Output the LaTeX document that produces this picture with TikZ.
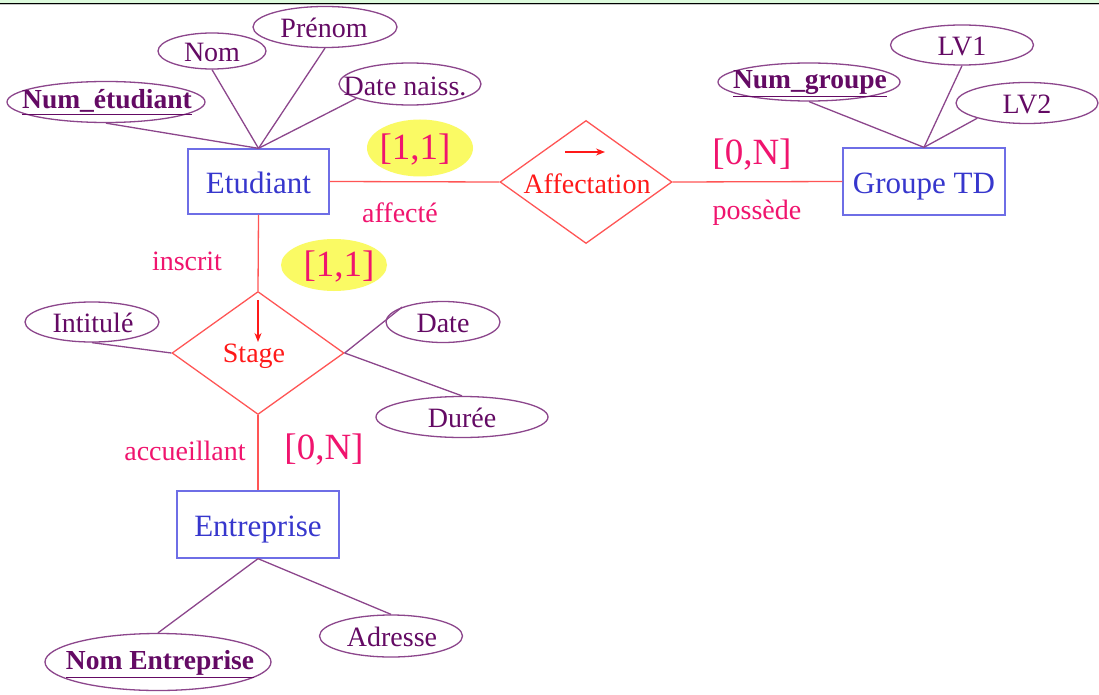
\documentclass[tikz,border=0pt]{standalone}
\usepackage{fontspec}
\setmainfont{Liberation Serif}
\usetikzlibrary{shapes.geometric,arrows.meta}
\definecolor{entline}{RGB}{110,110,230}
\definecolor{enttext}{RGB}{55,55,205}
\definecolor{relline}{RGB}{255,85,85}
\definecolor{reltext}{RGB}{255,25,25}
\definecolor{pinktext}{RGB}{240,20,110}
\definecolor{attrline}{RGB}{140,70,140}
\definecolor{attrtext}{RGB}{100,10,100}
\definecolor{hlyellow}{RGB}{250,250,100}
\definecolor{topgreen}{RGB}{220,250,220}
\begin{document}
\begin{tikzpicture}[x=1pt,y=-1pt,
  ent/.style={draw=entline, line width=1.3pt, fill=white, text=enttext,
    font=\fontsize{31}{33}\selectfont, inner sep=0pt, text height=24pt, text depth=0pt},
  rel/.style={diamond, draw=relline, line width=1.3pt, inner sep=0pt},
  reltxt/.style={text=reltext, font=\fontsize{28}{30}\selectfont, inner sep=0pt},
  attr/.style={ellipse, draw=attrline, line width=1.3pt, inner sep=0pt},
  attrtxt/.style={text=attrtext, font=\fontsize{28}{30}\selectfont, inner sep=0pt},
  keytxt/.style={text=attrtext, font=\fontsize{27.5}{29}\selectfont\bfseries, inner sep=0pt},
  card/.style={text=pinktext, font=\fontsize{37}{39}\selectfont, inner sep=0pt},
  role/.style={text=pinktext, font=\fontsize{28}{30}\selectfont, inner sep=0pt},
  hl/.style={ellipse, fill=hlyellow, inner sep=0pt},
  link/.style={draw=attrline, line width=1.3pt},
  rlink/.style={draw=relline, line width=1.3pt},
  tip/.style={draw=reltext, line width=1.3pt, -{Stealth[length=9pt,width=7pt]}}
]
\useasboundingbox (0,0) rectangle (1099,695);
\fill[white] (0,0) rectangle (1099,695);
% top band
\fill[topgreen] (0,0) rectangle (1099,3);
\draw[line width=1.3pt] (0,3.4) -- (1099,3.4);
\draw[gray!45, line width=0.8pt] (0,4.8) -- (1099,4.8);

% highlights
\node[hl, minimum width=106pt, minimum height=57pt] (h1) at (420,148) {};
\node[hl, minimum width=106pt, minimum height=52pt] (h2) at (334,265) {};

% entities
\node[ent, minimum width=141pt, minimum height=65pt] (etu) at (258.5,181.5) {Etudiant};
\node[ent, minimum width=162pt, minimum height=67pt] (grp) at (924,181.5) {Groupe TD};
\node[ent, minimum width=162pt, minimum height=67pt] (entr) at (258,524.5) {Entreprise};

% relationships
\node[rel, minimum width=172pt, minimum height=123pt] (aff) at (586,182) {};
\node[reltxt] (afft) at (587,184) {Affectation};
\node[rel, minimum width=172pt, minimum height=123pt] (stg) at (258,353) {};
\node[reltxt] (stgt) at (254,356) {Stage};
\coordinate (a1) at (565,152);
\coordinate (a2) at (605,152);
\draw[tip] (a1) -- (a2);
\coordinate (s1) at (258,300);
\coordinate (s2) at (258,342);
\draw[tip] (s1) -- (s2);

% attributes of Etudiant
\node[attr, minimum width=198pt, minimum height=41pt] (numet) at (106,102) {};
\node[keytxt] (numett) at (107,102) {\underline{Num\_étudiant}};
\node[attr, minimum width=108pt, minimum height=36pt] (nom) at (212,51) {};
\node[attrtxt] (nomt) at (212,52) {Nom};
\node[attr, minimum width=144pt, minimum height=41pt] (pren) at (325,27) {};
\node[attrtxt] (prent) at (324,28) {Prénom};
\node[attr, minimum width=142pt, minimum height=42pt] (dn) at (410,84) {};
\node[attrtxt] (dnt) at (405,86) {Date naiss.};

% attributes of Groupe TD
\node[attr, minimum width=182pt, minimum height=38pt] (numg) at (809,82) {};
\node[keytxt] (numgt) at (810,84) {\underline{Num\_groupe}};
\node[attr, minimum width=143pt, minimum height=40pt] (lv1) at (962,45) {};
\node[attrtxt] (lv1t) at (962,46) {LV1};
\node[attr, minimum width=142pt, minimum height=41pt] (lv2) at (1027,103) {};
\node[attrtxt] (lv2t) at (1027,104) {LV2};

% attributes of Stage
\node[attr, minimum width=134pt, minimum height=40pt] (intit) at (92,322) {};
\node[attrtxt] (intitt) at (93,323) {Intitulé};
\node[attr, minimum width=114pt, minimum height=41pt] (date) at (443,322) {};
\node[attrtxt] (datet) at (443,323) {Date};
\node[attr, minimum width=172pt, minimum height=41pt] (duree) at (462,417) {};
\node[attrtxt] (dureet) at (462,418) {Durée};

% attributes of Entreprise
\node[attr, minimum width=226pt, minimum height=57pt] (noment) at (158,662) {};
\node[keytxt] (noment t) at (160,664) {\underline{Nom Entreprise}};
\node[attr, minimum width=143pt, minimum height=42pt] (adr) at (391,636) {};
\node[attrtxt] (adrt) at (392,637) {Adresse};

% attribute links
\draw[link] (etu.north) -- (numet.south);
\draw[link] (etu.north) -- (nom.south);
\draw[link] (etu.north) -- (pren.south);
\draw[link] (etu.north) -- (dn.195);
\draw[link] (grp.north) -- (numg.south);
\draw[link] (grp.north) -- (lv1.south);
\draw[link] (grp.north) -- (lv2.197);
\draw[link] (stg.west) -- (intit.south);
\draw[link] (stg.east) -- (date.160);
\draw[link] (stg.east) -- (duree.north);
\draw[link] (entr.south) -- (noment.north);
\draw[link] (entr.south) -- (adr.north);

% relationship links
\draw[rlink] (etu.east) -- (aff.west);
\draw[rlink] (aff.east) -- (grp.west);
\draw[rlink] (etu.south) -- (stg.north);
\draw[rlink] (stg.south) -- (entr.north);

% cardinalities and roles
\node[card] (c1) at (415,150) {[1,1]};
\node[card] (c2) at (752,155) {[0,N]};
\node[card] (c3) at (339,267) {[1,1]};
\node[card] (c4) at (324,450) {[0,N]};
\node[role] (r1) at (400,213) {affecté};
\node[role] (r2) at (757,213) {possède};
\node[role] (r3) at (187,261) {inscrit};
\node[role] (r4) at (185,451) {accueillant};
\end{tikzpicture}
\end{document}
